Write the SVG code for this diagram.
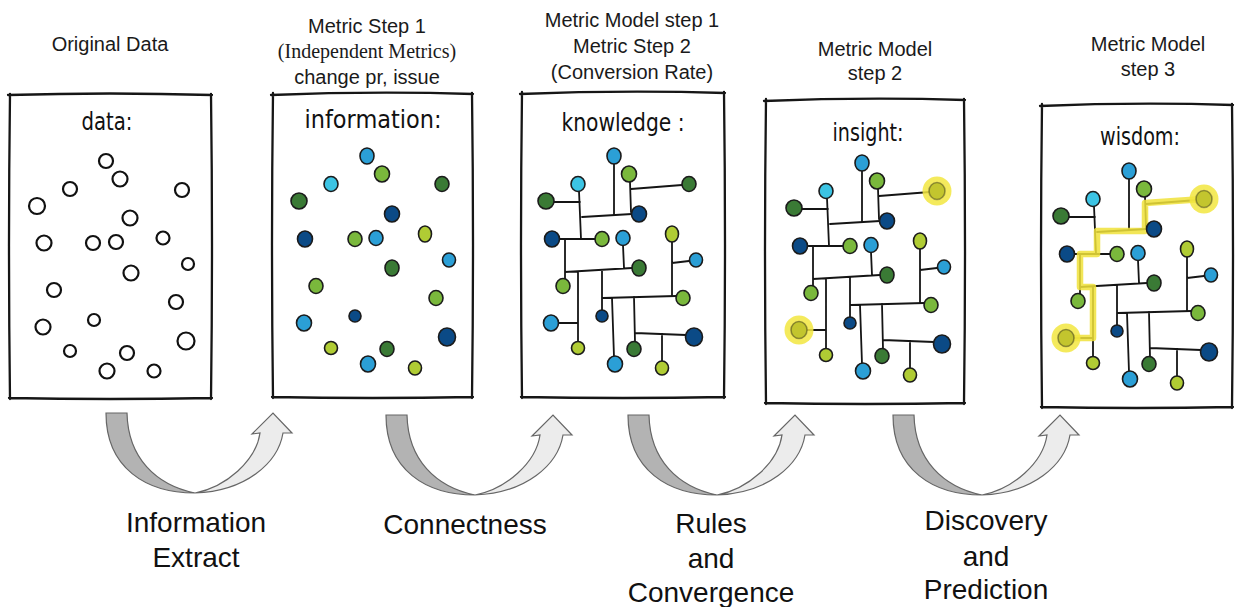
<svg xmlns="http://www.w3.org/2000/svg" xmlns:xlink="http://www.w3.org/1999/xlink" width="1235" height="607" viewBox="0 0 1235 607">
<style>
.lbl{font-family:"Liberation Sans",Arial,sans-serif;font-size:20px;fill:#1a1a1a;text-anchor:middle}
.ser{font-family:"Liberation Serif","Times New Roman",serif;font-size:20px;fill:#1a1a1a;text-anchor:middle}
.big{font-family:"Liberation Sans",Arial,sans-serif;font-size:28px;fill:#111;text-anchor:middle}
.hand{font-family:"DejaVu Sans",sans-serif;font-size:24px;fill:#111;text-anchor:middle}
.box{fill:none;stroke:#161616;stroke-width:2.3;stroke-linecap:round}
.ring{fill:#fff;stroke:#111;stroke-width:2.2}
.dot{stroke:#1b1b1b;stroke-width:1.6}
.lb{fill:#2b9fd6}.cy{fill:#3cc4e4}.dg{fill:#3a7a35}.nv{fill:#0b4a86}.g{fill:#7ab83c}.yg{fill:#b0cc34}.hl{fill:#c3c52e}
.wire{fill:none;stroke:#151515;stroke-width:1.8;stroke-linecap:round}
.glow{fill:#f2e640;opacity:0.85}
.ypath{fill:none;stroke:#f0e23a;stroke-width:6.5;stroke-linejoin:round;stroke-linecap:round;opacity:0.85}
.adark{fill:#b3b3b3;stroke:#666;stroke-width:1.2}
.alight{fill:#ececec;stroke:#666;stroke-width:1.2}
</style>
<defs>
<g id="uarrow">
<path class="adark" d="M0,0 L21,0 C22,45 50,72 89,80 C40,80 0,55 0,0 Z"/>
<path class="alight" d="M89,80 C120,74 150,48 154,20 L146,21 L167,0 L186,20 L177,20 C172,50 140,78 89,80 Z"/>
</g>
<g id="wires">
<path class="wire" d="M614,163 L614,215 M582,217 L632,214 M579,191 L581,239 M553,202 L580,202 M630,182 L631,212 M631,189 L682,185 M559,239 L595,239 M565,240 L565,279 M565,272 L632,268 M623,245 L624,268 M578,272 L578,341 M558,323 L578,323 M602,270 L602,310 M603,298 L676,296 M672,242 L672,296 M672,263 L689,261 M612,298 L614,357 M634,297 L635,342 M635,333 L686,335 M662,334 L662,361"/>
</g>
<g id="dots">
<ellipse class="dot lb" cx="614" cy="156" rx="7" ry="8"/>
<ellipse class="dot g" cx="629" cy="174" rx="7.5" ry="8"/>
<ellipse class="dot dg" cx="689" cy="184" rx="7" ry="7.5"/>
<ellipse class="dot cy" cx="578" cy="184" rx="7" ry="7.5"/>
<ellipse class="dot dg" cx="546" cy="201" rx="8" ry="8"/>
<ellipse class="dot nv" cx="639" cy="214" rx="7.5" ry="8"/>
<ellipse class="dot nv" cx="552" cy="239" rx="7.5" ry="8"/>
<ellipse class="dot g" cx="602" cy="239" rx="7" ry="7.5"/>
<ellipse class="dot lb" cx="623" cy="238" rx="7" ry="7.5"/>
<ellipse class="dot yg" cx="672" cy="234" rx="6.5" ry="8"/>
<ellipse class="dot lb" cx="696" cy="260" rx="6.5" ry="7"/>
<ellipse class="dot dg" cx="639" cy="268" rx="7" ry="8"/>
<ellipse class="dot g" cx="563" cy="286" rx="7" ry="7.5"/>
<ellipse class="dot g" cx="683" cy="298" rx="7" ry="7.5"/>
<ellipse class="dot lb" cx="551" cy="323" rx="7.5" ry="8"/>
<ellipse class="dot nv" cx="602" cy="316" rx="6" ry="6"/>
<ellipse class="dot nv" cx="694" cy="337" rx="8.5" ry="9"/>
<ellipse class="dot yg" cx="578" cy="348" rx="6.5" ry="6.5"/>
<ellipse class="dot dg" cx="634" cy="349" rx="7" ry="7.5"/>
<ellipse class="dot lb" cx="615" cy="364" rx="7.5" ry="8"/>
<ellipse class="dot yg" cx="662" cy="368" rx="6.5" ry="7"/>
</g>
<g id="highlights">
<circle class="glow" cx="689" cy="184" r="14.5"/>
<ellipse class="dot hl" cx="689" cy="184" rx="8" ry="8.5" stroke-opacity="0.4"/>
<circle class="glow" cx="551" cy="323" r="14.5"/>
<ellipse class="dot hl" cx="551" cy="323" rx="8" ry="8.5" stroke-opacity="0.4"/>
</g>
</defs>
<rect width="1235" height="607" fill="#fff"/>

<g id="panel-data">
<text class="lbl" x="110" y="51">Original Data</text>
<path class="box" d="M8,95 Q110,92 212,95 M211,94 Q213,246 211,399 M212,398 Q110,400 9,398 M10,399 Q8,246 10,94"/>
<text class="hand" x="107" y="130" textLength="51" lengthAdjust="spacingAndGlyphs">data:</text>
<circle class="ring" cx="106" cy="161" r="7"/>
<circle class="ring" cx="120" cy="179" r="7.5"/>
<circle class="ring" cx="70" cy="189" r="7"/>
<circle class="ring" cx="182" cy="190" r="7"/>
<circle class="ring" cx="37" cy="206" r="8"/>
<circle class="ring" cx="130" cy="218" r="7.5"/>
<circle class="ring" cx="44" cy="243" r="7.5"/>
<circle class="ring" cx="93" cy="243" r="7"/>
<circle class="ring" cx="116" cy="242" r="7"/>
<circle class="ring" cx="163" cy="238" r="6.5"/>
<circle class="ring" cx="188" cy="264" r="6"/>
<circle class="ring" cx="131" cy="273" r="7.5"/>
<circle class="ring" cx="54" cy="290" r="7"/>
<circle class="ring" cx="176" cy="302" r="7"/>
<circle class="ring" cx="43" cy="327" r="7.5"/>
<circle class="ring" cx="94" cy="320" r="6"/>
<circle class="ring" cx="186" cy="341" r="8.5"/>
<circle class="ring" cx="70" cy="351" r="6"/>
<circle class="ring" cx="127" cy="353" r="7"/>
<circle class="ring" cx="107" cy="371" r="7.5"/>
<circle class="ring" cx="154" cy="371" r="6.5"/>
</g>

<g id="panel-information">
<text class="lbl" x="367" y="33">Metric Step 1</text>
<text class="ser" x="367" y="58">(Independent Metrics)</text>
<text class="lbl" x="367" y="84">change pr, issue</text>
<path class="box" d="M271,95 Q372,91 473,94 M472,93 Q474,245 472,398 M473,397 Q372,399 272,397 M273,398 Q271,245 273,93"/>
<text class="hand" x="373" y="128" textLength="137" lengthAdjust="spacingAndGlyphs">information:</text>
<use xlink:href="#dots" href="#dots" transform="translate(-247,0)"/>
</g>

<g id="panel-knowledge">
<text class="lbl" x="632" y="27">Metric Model step 1</text>
<text class="lbl" x="632" y="53">Metric Step 2</text>
<text class="lbl" x="632" y="79">(Conversion Rate)</text>
<path class="box" d="M520,94 Q623,90 725,93 M724,92 Q726,245 724,398 M725,397 Q623,399 521,397 M522,398 Q520,245 522,92"/>
<text class="hand" x="623" y="131" textLength="123" lengthAdjust="spacingAndGlyphs">knowledge :</text>
<use xlink:href="#wires" href="#wires"/>
<use xlink:href="#dots" href="#dots"/>
</g>

<g id="panel-insight">
<text class="lbl" x="875" y="56">Metric Model</text>
<text class="lbl" x="875" y="80">step 2</text>
<path class="box" d="M764,101 Q865,97 965,100 M964,99 Q966,251 964,404 M965,403 Q865,405 765,403 M766,404 Q764,251 766,99"/>
<text class="hand" x="868" y="141" textLength="71" lengthAdjust="spacingAndGlyphs">insight:</text>
<g transform="translate(248,7)">
<use xlink:href="#wires" href="#wires"/>
<use xlink:href="#dots" href="#dots"/>
<use xlink:href="#highlights" href="#highlights"/>
</g>
</g>

<g id="panel-wisdom">
<text class="lbl" x="1148" y="51">Metric Model</text>
<text class="lbl" x="1148" y="76">step 3</text>
<path class="box" d="M1040,106 Q1136,102 1233,105 M1232,104 Q1234,256 1232,408 M1233,407 Q1136,409 1041,407 M1042,408 Q1040,256 1042,104"/>
<text class="hand" x="1140" y="145" textLength="80" lengthAdjust="spacingAndGlyphs">wisdom:</text>
<g transform="translate(515,15)">
<use xlink:href="#wires" href="#wires"/>
<path class="ypath" d="M689,184 L630,188 L630,216 L582,216 L582,239 L565,239 L565,272 L578,272 L578,323 L551,323"/>
<use xlink:href="#dots" href="#dots"/>
<use xlink:href="#highlights" href="#highlights"/>
</g>
</g>

<g id="connectors">
<use xlink:href="#uarrow" href="#uarrow" transform="translate(106,413)"/>
<use xlink:href="#uarrow" href="#uarrow" transform="translate(386,415)"/>
<use xlink:href="#uarrow" href="#uarrow" transform="translate(628,415)"/>
<use xlink:href="#uarrow" href="#uarrow" transform="translate(893,415)"/>
<text class="big" x="196" y="532">Information</text>
<text class="big" x="196" y="567">Extract</text>
<text class="big" x="465" y="534">Connectness</text>
<text class="big" x="711" y="533">Rules</text>
<text class="big" x="711" y="568">and</text>
<text class="big" x="711" y="602">Convergence</text>
<text class="big" x="986" y="530">Discovery</text>
<text class="big" x="986" y="566">and</text>
<text class="big" x="986" y="599">Prediction</text>
</g>
</svg>
